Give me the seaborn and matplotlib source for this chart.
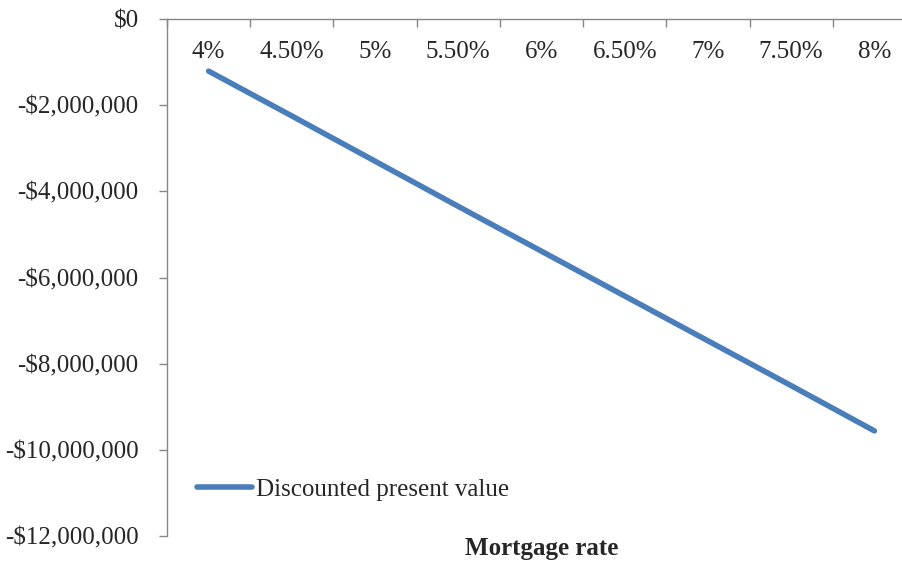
import numpy as np
import pandas as pd
import matplotlib
matplotlib.use('agg')
import matplotlib.pyplot as plt
import seaborn as sns
from matplotlib.ticker import FixedLocator, FuncFormatter

rates = ['4%', '4.50%', '5%', '5.50%', '6%', '6.50%', '7%', '7.50%', '8%']
present_value = [-1210000, -2250000, -3300000, -4350000, -5390000,
                 -6430000, -7470000, -8510000, -9560000]
y_ticks = [0, -2000000, -4000000, -6000000, -8000000, -10000000, -12000000]

df = pd.DataFrame({'pos': np.arange(len(rates)), 'rate': rates, 'pv': present_value})

sns.set_style('white')
plt.rcParams['font.family'] = ['Liberation Serif', 'DejaVu Serif']
fs = 18

fig = plt.figure(figsize=(9.02, 5.63), dpi=100)
ax = fig.add_axes([167 / 902, 1 - 536 / 563, 749 / 902, 517 / 563])

sns.lineplot(data=df, x='pos', y='pv', ax=ax, color='#4A7EBB', linewidth=4.0,
             solid_capstyle='round', label='Discounted present value')

ax.set_xlim(-0.5, len(rates) - 0.5)
ax.set_ylim(-12000000, 0)

# осі як в Excel: вісь X проходить через нуль (зверху)
for s in ['top', 'right']:
    ax.spines[s].set_visible(False)
ax.spines['bottom'].set_position(('data', 0))
for s in ['bottom', 'left']:
    ax.spines[s].set_color('#868686')
    ax.spines[s].set_linewidth(1.0)

ax.xaxis.set_major_locator(FixedLocator(np.arange(len(rates) + 1) - 0.5))
ax.xaxis.set_minor_locator(FixedLocator(np.arange(len(rates))))
ax.set_xticklabels([], minor=False)
ax.set_xticklabels(rates, minor=True)
ax.tick_params(axis='x', which='major', direction='out', length=5.5, width=1.0,
               color='#868686', bottom=True)
ax.tick_params(axis='x', which='minor', length=0, pad=16, labelsize=fs, bottom=True)

ax.set_yticks(y_ticks)
ax.yaxis.set_major_formatter(FuncFormatter(
    lambda v, p: '$0' if v == 0 else ('-$' if v < 0 else '$') + f'{abs(v):,.0f}'))
ax.tick_params(axis='y', direction='out', length=5.5, width=1.0, color='#868686',
               left=True, pad=15, labelsize=fs)

ax.set_xlabel('Mortgage rate', fontsize=fs, fontweight='bold', va='top')
ax.xaxis.set_label_coords(0.5, -0.002)
ax.set_ylabel('')

ax.legend(loc='center left', bbox_to_anchor=(0.04, 0.089), frameon=False,
          fontsize=fs, handlelength=2.2, handletextpad=0.15, borderpad=0,
          borderaxespad=0)

plt.savefig('out.png', dpi=100)
plt.close()
